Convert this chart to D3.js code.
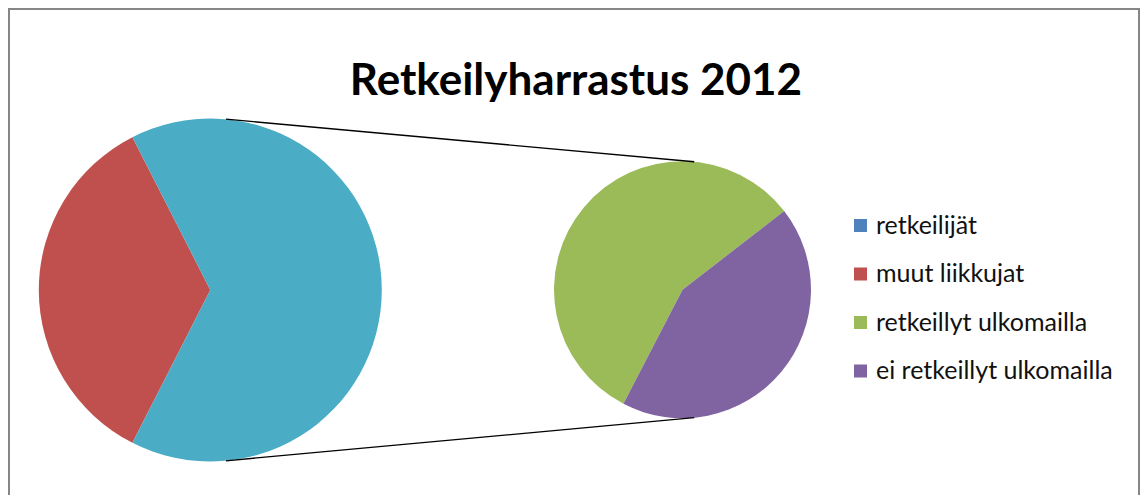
<!DOCTYPE html>
<html>
<head>
<meta charset="utf-8">
<script src="https://cdn.jsdelivr.net/npm/d3@7"></script>
<style>
  body { margin: 0; background: #fff; }
  text { font-family: Lato, "Open Sans", sans-serif; }
</style>
</head>
<body>
<div class="chart"></div>
<script>
// data (percent)
let mainLabels = ["muut liikkujat", "retkeilijät"];
let mainValues = [35, 65];
let subLabels = ["retkeillyt ulkomailla", "ei retkeillyt ulkomailla"];
let subValues = [37, 28];
let legendLabels = ["retkeilijät", "muut liikkujat", "retkeillyt ulkomailla", "ei retkeillyt ulkomailla"];
let legendColors = ["#4F81BD", "#C0504D", "#9BBB59", "#8064A2"];
let otherColor = "#4BACC6";

let width = 1142, height = 495;

let svg = d3.select(".chart").append("svg")
  .attr("width", width)
  .attr("height", height);

// chart frame
svg.append("rect")
  .attr("x", 9).attr("y", 9)
  .attr("width", 1130).attr("height", 500)
  .attr("fill", "none")
  .attr("stroke", "#868686")
  .attr("stroke-width", 2);

svg.append("text")
  .attr("x", 576).attr("y", 95)
  .attr("text-anchor", "middle")
  .attr("font-weight", "bold")
  .attr("font-size", 44)
  .text("Retkeilyharrastus 2012");

let deg = Math.PI / 180;

// main pie: "other" slice centred on the right side
let c1 = { x: 210.3, y: 290, r: 171.5 };
let otherAngle = mainValues[1] / d3.sum(mainValues) * 360;
let pie1 = d3.pie().sort(null)
  .startAngle((90 + otherAngle / 2) * deg)
  .endAngle((90 + otherAngle / 2 + 360) * deg);
let arc1 = d3.arc().innerRadius(0).outerRadius(c1.r);

svg.append("g")
  .attr("transform", "translate(" + c1.x + "," + c1.y + ")")
  .selectAll("path")
  .data(pie1(mainValues))
  .join("path")
  .attr("d", arc1)
  .attr("fill", (d, i) => i == 0 ? legendColors[1] : otherColor);

// secondary pie
let c2 = { x: 682.5, y: 289.7, r: 128.5 };
let purpleAngle = subValues[1] / d3.sum(subValues) * 360;
let start2 = 52.3 + purpleAngle; // green starts where purple ends
let pie2 = d3.pie().sort(null)
  .startAngle(start2 * deg)
  .endAngle((start2 + 360) * deg);
let arc2 = d3.arc().innerRadius(0).outerRadius(c2.r);

svg.append("g")
  .attr("transform", "translate(" + c2.x + "," + c2.y + ")")
  .selectAll("path")
  .data(pie2(subValues))
  .join("path")
  .attr("d", arc2)
  .attr("fill", (d, i) => legendColors[i + 2]);

// connector lines = outer tangents of both circles
let dist = c2.x - c1.x;
let t = Math.asin((c1.r - c2.r) / dist);
[-1, 1].forEach((s) => {
  svg.append("line")
    .attr("x1", c1.x + c1.r * Math.sin(t))
    .attr("y1", c1.y + s * c1.r * Math.cos(t))
    .attr("x2", c2.x + c2.r * Math.sin(t))
    .attr("y2", c2.y + s * c2.r * Math.cos(t))
    .attr("stroke", "#000")
    .attr("stroke-width", 1.3);
});

// legend
let legend = svg.append("g").attr("transform", "translate(854,225)");
legendLabels.forEach((name, i) => {
  let row = legend.append("g").attr("transform", "translate(0," + i * 48.5 + ")");
  row.append("rect")
    .attr("x", 0).attr("y", -6)
    .attr("width", 13).attr("height", 13)
    .attr("fill", legendColors[i]);
  row.append("text")
    .attr("x", 22).attr("y", 0)
    .attr("dy", "0.35em")
    .attr("font-size", 25)
    .attr("fill", "#111")
    .text(name);
});
</script>
</body>
</html>
